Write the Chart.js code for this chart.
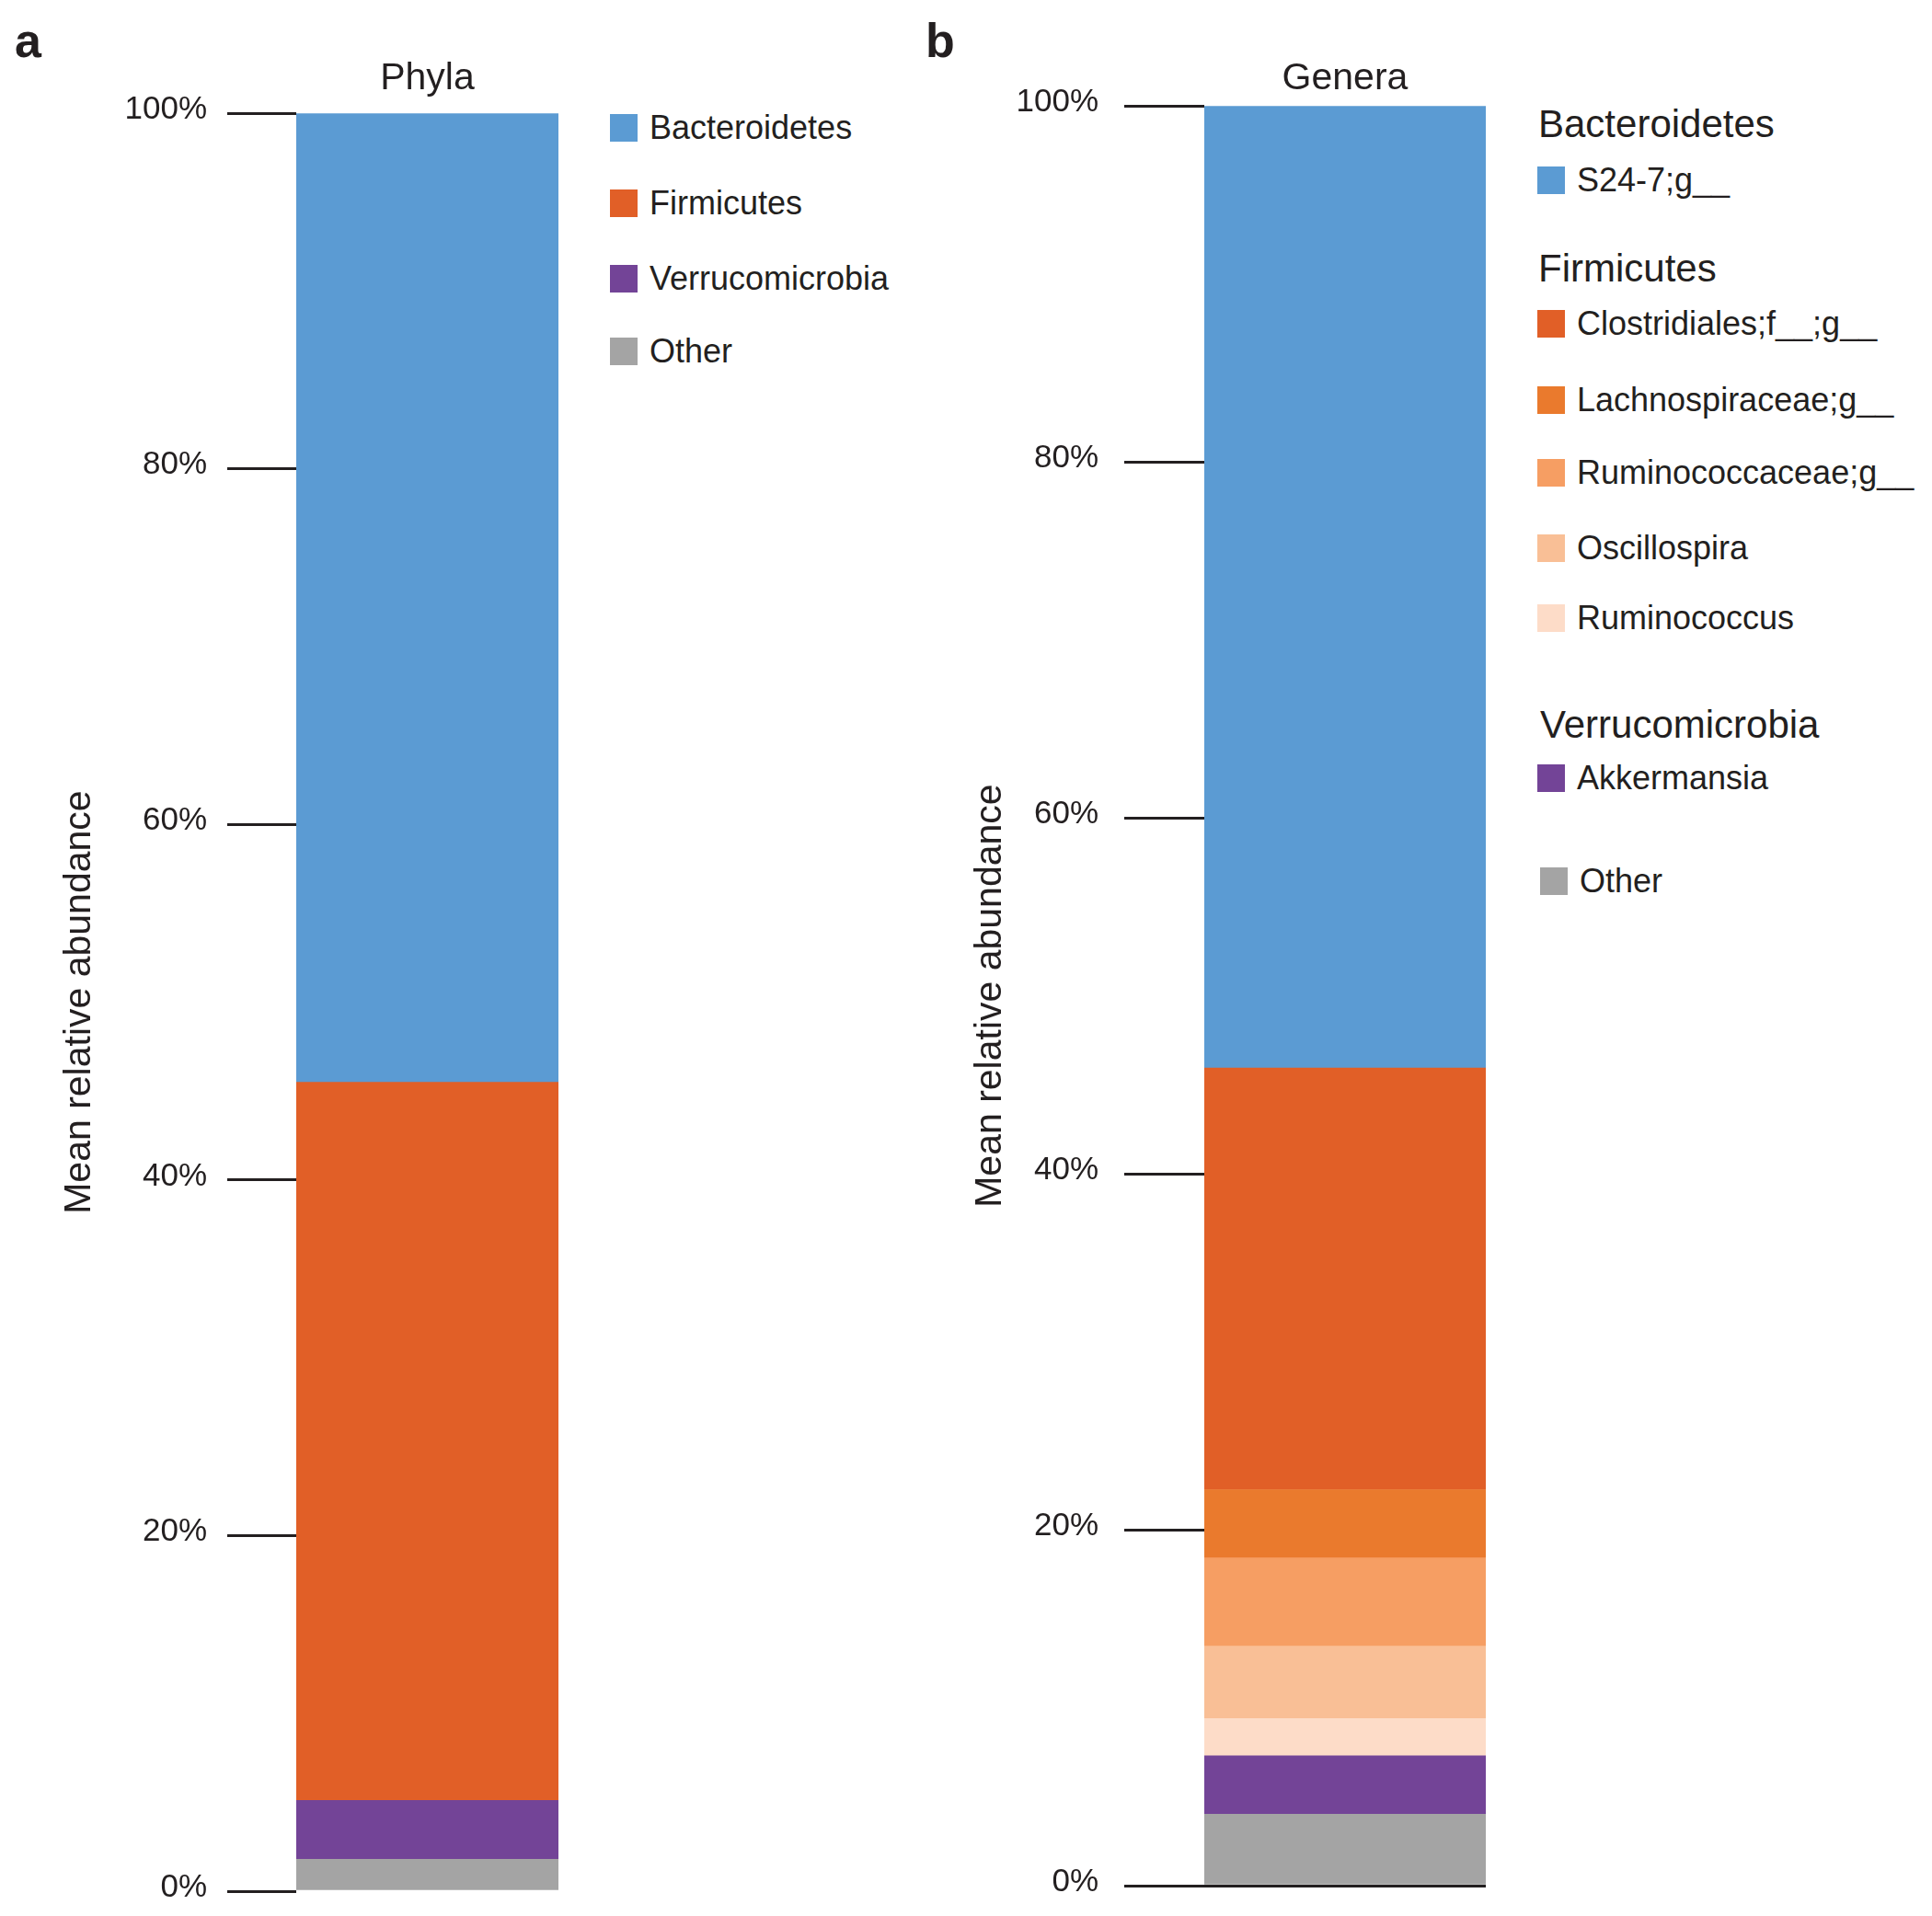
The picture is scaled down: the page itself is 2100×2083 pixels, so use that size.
<!DOCTYPE html>
<html>
<head>
<meta charset="utf-8">
<title>Mean relative abundance - Phyla / Genera</title>
<script src="https://cdn.jsdelivr.net/npm/chart.js@4/dist/chart.umd.min.js"></script>
<style>
  html, body { margin: 0; padding: 0; background: #fff; }
  body {
    width: 2100px; height: 2083px; position: relative; overflow: hidden;
    font-family: "Liberation Sans", Arial, Helvetica, sans-serif; color: #231f20;
  }
  .box { position: absolute; top: 0; width: 650px; height: 2083px; }
  .letter { position: absolute; font-weight: bold; font-size: 52px; line-height: 52px; }
  .sw { position: absolute; width: 30px; height: 30px; }
  .txt { position: absolute; white-space: nowrap; font-size: 36px; line-height: 44px; }
  .head { position: absolute; white-space: nowrap; font-size: 42px; line-height: 50px; }
</style>
</head>
<body>
<div class="letter" style="left:16px; top:18px;">a</div>
<div class="letter" style="left:1006px; top:18px;">b</div>

<div class="box" style="left:0px;"><canvas id="chartPhyla"></canvas></div>
<div class="box" style="left:1000px;"><canvas id="chartGenera"></canvas></div>

<div id="legends"></div>

<script>
// Daten: Phyla (Reihenfolge wie in der Legende, oben nach unten)
const phylaLabels = ["Bacteroidetes", "Firmicutes", "Verrucomicrobia", "Other"];
const phylaValues = [54.5, 40.4, 3.3, 1.8];
const phylaColors = ["#5b9bd3", "#e15f27", "#734497", "#a4a4a4"];

// Daten: Genera
const generaLabels = [
  "S24-7;g__", "Clostridiales;f__;g__", "Lachnospiraceae;g__", "Ruminococcaceae;g__",
  "Oscillospira", "Ruminococcus", "Akkermansia", "Other"
];
const generaPhyla = [
  "Bacteroidetes", "Firmicutes", "Firmicutes", "Firmicutes",
  "Firmicutes", "Firmicutes", "Verrucomicrobia", ""
];
const generaValues = [54.05, 23.7, 3.83, 4.96, 4.07, 2.09, 3.29, 4.01];
const generaColors = ["#5b9bd3", "#e15f27", "#ea7a2d", "#f69e63", "#f9bf96", "#fddcc8", "#734497", "#a4a4a4"];

const yMin = 0, yMax = 100, yStep = 20;
const axisTitle = "Mean relative abundance";

const ink = "#231f20";
const fontFamily = "'Liberation Sans', Arial, Helvetica, sans-serif";

function makeChart(canvas, title, labels, values, colors, o) {
  // unterstes Segment zuerst -> Legendenreihenfolge umdrehen
  const datasets = labels.map((lab, i) => ({
    label: lab,
    data: [values[i]],
    backgroundColor: colors[i],
    borderWidth: 0,
    barPercentage: 1,
    categoryPercentage: 1
  })).reverse();

  return new Chart(canvas, {
    type: "bar",
    data: { labels: [""], datasets: datasets },
    options: {
      responsive: true,
      maintainAspectRatio: false,
      animation: false,
      layout: { padding: o.padding },
      plugins: {
        legend: { display: false },
        tooltip: { enabled: false },
        title: {
          display: true,
          text: title,
          fullSize: false,
          color: ink,
          font: { family: fontFamily, size: 41, weight: "normal" },
          padding: { top: 0, bottom: o.titleGap }
        }
      },
      scales: {
        x: { stacked: true, display: false },
        y: {
          stacked: true,
          min: yMin,
          max: yMax,
          border: { display: false },
          grid: {
            drawOnChartArea: o.zeroLine,
            color: ctx => (ctx.tick && ctx.tick.value === 0) ? ink : "rgba(0,0,0,0)",
            tickColor: ink,
            lineWidth: 3,
            tickWidth: 3,
            tickLength: o.tickLength
          },
          ticks: {
            stepSize: yStep,
            padding: o.tickPad,
            labelOffset: o.labelOffset,
            color: ink,
            font: { family: fontFamily, size: 35 },
            callback: v => v + "%"
          },
          title: {
            display: true,
            text: axisTitle,
            color: ink,
            font: { family: fontFamily, size: 41 },
            padding: { top: 22, bottom: 0 }
          },
          afterFit: s => {
            s.width = o.axisWidth;
            // Platz für Randbeschriftungen nicht extra reservieren
            s.paddingTop = 0;
            s.paddingBottom = 0;
          }
        }
      }
    }
  });
}

makeChart(document.getElementById("chartPhyla"), "Phyla", phylaLabels, phylaValues, phylaColors, {
  padding: { left: 40, right: 43, top: 61, bottom: 27 },
  titleGap: 13, axisWidth: 282, tickLength: 75, tickPad: 22, labelOffset: -4, zeroLine: false
});

makeChart(document.getElementById("chartGenera"), "Genera", generaLabels, generaValues, generaColors, {
  padding: { left: 30, right: 35, top: 61, bottom: 33 },
  titleGap: 5, axisWidth: 279, tickLength: 87, tickPad: 28, labelOffset: -4, zeroLine: true
});

// Legenden (HTML)
const legendRoot = document.getElementById("legends");

function addSwatch(x, y, color) {
  const d = document.createElement("div");
  d.className = "sw";
  d.style.left = x + "px";
  d.style.top = (y - 15) + "px";
  d.style.background = color;
  legendRoot.appendChild(d);
}
function addText(cls, x, y, text, lh) {
  const d = document.createElement("div");
  d.className = cls;
  d.style.left = x + "px";
  d.style.top = (y - lh / 2) + "px";
  d.textContent = text;
  legendRoot.appendChild(d);
}

// Legende a
const legendRowsA = [139, 221, 303, 382];
phylaLabels.forEach((lab, i) => {
  addSwatch(663, legendRowsA[i], phylaColors[i]);
  addText("txt", 706, legendRowsA[i], lab, 44);
});

// Legende b
const legendRowsB = [196, 352, 435, 514, 596, 672, 846, 958];
const headerRowsB = [135, 292, 788];
let lastGroup = null, h = 0;
generaLabels.forEach((lab, i) => {
  const g = generaPhyla[i];
  if (g && g !== lastGroup) {
    addText("head", g === "Verrucomicrobia" ? 1674 : 1672, headerRowsB[h++], g, 50);
  }
  lastGroup = g;
  const dx = g ? 0 : 3;
  addSwatch(1671 + dx, legendRowsB[i], generaColors[i]);
  addText("txt", 1714 + dx, legendRowsB[i], lab, 44);
});
</script>
</body>
</html>
